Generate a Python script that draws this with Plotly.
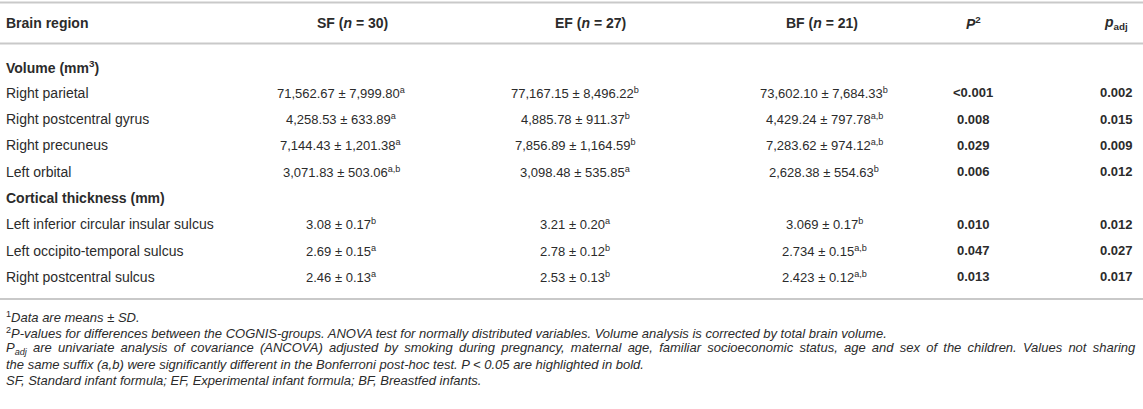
import plotly.graph_objects as go

# ---------------- data ----------------
header_labels = ["Brain region", "SF (<i>n</i> = 30)", "EF (<i>n</i> = 27)", "BF (<i>n</i> = 21)",
                 "<i>P</i><sup>2</sup>", "<i>p</i><sub>adj</sub>"]
section_labels = ["Volume (mm<sup>3</sup>)", "Cortical thickness (mm)"]

volume_regions = ["Right parietal", "Right postcentral gyrus", "Right precuneus", "Left orbital"]
thickness_regions = ["Left inferior circular insular sulcus", "Left occipito-temporal sulcus",
                     "Right postcentral sulcus"]

sf_mean = ["71,562.67", "4,258.53", "7,144.43", "3,071.83", "3.08", "2.69", "2.46"]
sf_sd = ["7,999.80", "633.89", "1,201.38", "503.06", "0.17", "0.15", "0.13"]
sf_suffix = ["a", "a", "a", "a,b", "b", "a", "a"]

ef_mean = ["77,167.15", "4,885.78", "7,856.89", "3,098.48", "3.21", "2.78", "2.53"]
ef_sd = ["8,496.22", "911.37", "1,164.59", "535.85", "0.20", "0.12", "0.13"]
ef_suffix = ["b", "b", "b", "a", "a", "b", "b"]

bf_mean = ["73,602.10", "4,429.24", "7,283.62", "2,628.38", "3.069", "2.734", "2.423"]
bf_sd = ["7,684.33", "797.78", "974.12", "554.63", "0.17", "0.15", "0.12"]
bf_suffix = ["b", "a,b", "a,b", "b", "b", "a,b", "a,b"]

p_values = ["<0.001", "0.008", "0.029", "0.006", "0.010", "0.047", "0.013"]
p_adj = ["0.002", "0.015", "0.009", "0.012", "0.012", "0.027", "0.017"]

footnotes = [
    "<sup>1</sup><i>Data are means \u00b1 SD.</i>",
    "<sup>2</sup><i>P-values for differences between the COGNIS-groups. ANOVA test for normally distributed variables. Volume analysis is corrected by total brain volume.</i>",
    "<i>P<sub>adj</sub> are univariate analysis of covariance (ANCOVA) adjusted by smoking during pregnancy, maternal age, familiar socioeconomic status, age and sex of the children. Values not sharing</i>",
    "<i>the same suffix (a,b) were significantly different in the Bonferroni post-hoc test. P &lt; 0.05 are highlighted in bold.</i>",
    "<i>SF, Standard infant formula; EF, Experimental infant formula; BF, Breastfed infants.</i>",
]
justified_notes = [2]  # wrapped line of a paragraph, set justified in the reference

# ---------------- layout constants ----------------
W, H = 1143, 409
FONT = "Liberation Sans, Arial, Helvetica, sans-serif"
TXT = "#2b2b2b"
LINE = "#c9c9c9"
FS = 14        # labels / headers
FS_VAL = 13    # numeric cells
FS_NOTE = 13

x_left = 4
col_val_x = [341, 575, 824, 973, 1116]
col_head_x = [352, 590, 822, 973, 1116]

y_header = 22.5
y_first = 66.5
step = 26.3
y_top_line, y_head_line, y_bottom_line = 2.5, 43.5, 299
y_note0, note_step = 316.5, 16.1

rows = []  # (kind, label, data_index)
di = 0
for sec, regs in zip(section_labels, [volume_regions, thickness_regions]):
    rows.append(("section", sec, None))
    for r in regs:
        rows.append(("data", r, di))
        di += 1
row_y = [y_first + i * step for i in range(len(rows))]


def fmt(mean, sd, suf):
    return f"{mean} \u00b1 {sd}<sup>{suf}</sup>"


fig = go.Figure()
fig.add_trace(go.Scatter(x=[0, W], y=[0, H], mode="markers", marker=dict(opacity=0),
                         hoverinfo="skip", showlegend=False))


def txt(x, y, s, anchor="center", size=FS):
    fig.add_annotation(x=x, y=y, xref="x", yref="y", text=s, showarrow=False,
                       xanchor=anchor, yanchor="middle", align=anchor if anchor != "center" else "center",
                       font=dict(family=FONT, size=size, color=TXT))


# header
txt(x_left, y_header, f"<b>{header_labels[0]}</b>", "left")
for hx, h in zip(col_head_x, header_labels[1:]):
    txt(hx, y_header, f"<b>{h}</b>")

# rows
columns = [
    [fmt(m, s, u) for m, s, u in zip(sf_mean, sf_sd, sf_suffix)],
    [fmt(m, s, u) for m, s, u in zip(ef_mean, ef_sd, ef_suffix)],
    [fmt(m, s, u) for m, s, u in zip(bf_mean, bf_sd, bf_suffix)],
    [f"<b>{p.replace('<', '&lt;')}</b>" for p in p_values],
    [f"<b>{p}</b>" for p in p_adj],
]
for (kind, lab, idx), y in zip(rows, row_y):
    if kind == "section":
        txt(x_left, y, f"<b>{lab}</b>", "left")
    else:
        txt(x_left, y, lab, "left")
        for cx, col in zip(col_val_x, columns):
            txt(cx, y, col[idx], size=FS_VAL)

# footnotes
for i, note in enumerate(footnotes):
    if i in justified_notes:
        note = note.replace(" ", " \u2009")
    txt(x_left, y_note0 + i * note_step, note, "left", FS_NOTE)

# rules
for yl in [y_top_line, y_head_line, y_bottom_line]:
    fig.add_shape(type="line", x0=0, x1=W, y0=yl, y1=yl, xref="x", yref="y",
                  line=dict(color=LINE, width=2))

fig.update_layout(
    width=W, height=H, margin=dict(l=0, r=0, t=0, b=0),
    font=dict(family=FONT, size=FS, color=TXT),
    paper_bgcolor="white", plot_bgcolor="white",
    xaxis=dict(range=[0, W], visible=False, fixedrange=True),
    yaxis=dict(range=[H, 0], visible=False, fixedrange=True),
)

fig.write_html("out.html", config={"displayModeBar": False},
               post_script="document.body.style.margin='0';document.body.style.overflow='hidden';")
